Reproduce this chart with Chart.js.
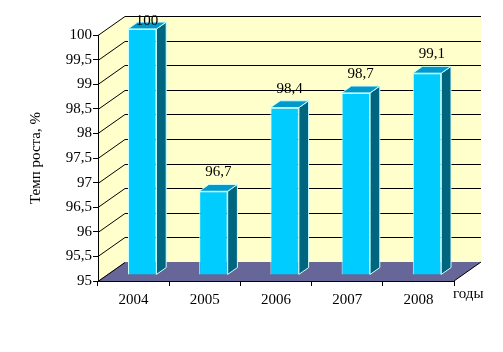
<!DOCTYPE html>
<html>
<head>
<meta charset="utf-8">
<script src="https://cdn.jsdelivr.net/npm/chart.js@4"></script>
<style>
  html, body { margin: 0; padding: 0; background: #fff; }
</style>
</head>
<body>
<canvas id="c" width="503" height="352"></canvas>
<script>
const years = ['2004', '2005', '2006', '2007', '2008'];
const growth = [100, 96.7, 98.4, 98.7, 99.1];
const yMin = 95, yMax = 100, yStep = 0.5;
const yTitle = 'Темп роста, %';
const xUnit = 'годы';

// depth of the 3d box, bars sit between NEAR and FAR of it
const DX = 27, DY = -19;
const NEAR = 0.32, FAR = 0.68;
const FONT = '"Liberation Serif", "Times New Roman", serif';
const comma = v => String(v).replace('.', ',');

const box3d = {
  id: 'box3d',
  beforeDraw(chart) {
    const {ctx, chartArea: a, scales: {y}} = chart;
    ctx.save();
    ctx.fillStyle = '#FFFFCC';
    ctx.beginPath();
    ctx.moveTo(a.left, a.top);
    ctx.lineTo(a.left + DX, a.top + DY);
    ctx.lineTo(a.left + DX, a.bottom + DY);
    ctx.lineTo(a.left, a.bottom);
    ctx.closePath();
    ctx.fill();
    ctx.fillRect(a.left + DX, a.top + DY, a.right - a.left, a.bottom - a.top);

    ctx.fillStyle = '#666699';
    ctx.beginPath();
    ctx.moveTo(a.left, a.bottom);
    ctx.lineTo(a.right, a.bottom);
    ctx.lineTo(a.right + DX, a.bottom + DY);
    ctx.lineTo(a.left + DX, a.bottom + DY);
    ctx.closePath();
    ctx.fill();

    ctx.strokeStyle = '#000';
    ctx.lineWidth = 1;
    y.ticks.forEach(t => {
      const py = Math.round(y.getPixelForValue(t.value)) + 0.5;
      ctx.beginPath();
      ctx.moveTo(a.left, py);
      ctx.lineTo(a.left + DX, py + DY);
      if (t.value > yMin) ctx.lineTo(a.right + DX, py + DY);
      ctx.stroke();
    });
    ctx.beginPath();
    ctx.moveTo(a.right, a.bottom);
    ctx.lineTo(a.right + DX, a.bottom + DY);
    ctx.stroke();

    ctx.fillStyle = '#000';
    ctx.font = '15px ' + FONT;
    ctx.textAlign = 'left';
    ctx.textBaseline = 'alphabetic';
    ctx.fillText(xUnit, a.right - 1, 298);
    ctx.restore();
  },
  beforeDatasetsDraw(chart) {
    chart.ctx.save();
    chart.ctx.translate(DX * NEAR, DY * NEAR);
  },
  afterDatasetsDraw(chart) {
    const {ctx, chartArea: a} = chart;
    ctx.restore();
    const nx = DX * NEAR, ny = DY * NEAR;
    const dx = DX * (FAR - NEAR), dy = DY * (FAR - NEAR);
    ctx.save();
    ctx.lineWidth = 1;
    ctx.strokeStyle = '#CCFFFF';
    chart.getDatasetMeta(0).data.forEach((el, i) => {
      const l = el.x - el.width / 2 + nx, r = el.x + el.width / 2 + nx;
      const top = el.y + ny, bot = el.base + ny;
      ctx.fillStyle = '#006680';
      ctx.beginPath();
      ctx.moveTo(r, top);
      ctx.lineTo(r + dx, top + dy);
      ctx.lineTo(r + dx, bot + dy);
      ctx.lineTo(r, bot);
      ctx.closePath();
      ctx.fill();
      ctx.stroke();
      ctx.fillStyle = '#0099CC';
      ctx.beginPath();
      ctx.moveTo(l, top);
      ctx.lineTo(r, top);
      ctx.lineTo(r + dx, top + dy);
      ctx.lineTo(l + dx, top + dy);
      ctx.closePath();
      ctx.fill();
      ctx.stroke();

      ctx.fillStyle = '#000';
      ctx.font = '15px ' + FONT;
      ctx.textAlign = 'center';
      ctx.textBaseline = 'alphabetic';
      ctx.fillText(comma(growth[i]), el.x + nx + dx / 2, Math.max(top - 15, a.top - 10));
    });
    ctx.restore();
  }
};

new Chart(document.getElementById('c'), {
  type: 'bar',
  data: {
    labels: years,
    datasets: [{
      data: growth,
      base: yMin,
      backgroundColor: '#00CCFF',
      borderColor: '#CCFFFF',
      borderWidth: 1,
      barPercentage: 0.4,
      categoryPercentage: 1,
      clip: false
    }]
  },
  options: {
    responsive: false,
    devicePixelRatio: 1,
    animation: false,
    layout: { padding: { top: 35, right: 49, left: 0, bottom: 0 } },
    plugins: { legend: { display: false }, tooltip: { enabled: false } },
    scales: {
      x: {
        border: { display: true, color: '#000', width: 1 },
        grid: { drawOnChartArea: false, tickLength: 5, color: '#000', offset: true },
        ticks: { color: '#000', padding: 5, font: { family: FONT, size: 15 } },
        afterFit(s) { s.height = 71; }
      },
      y: {
        min: yMin,
        max: yMax,
        border: { display: true, color: '#000', width: 1 },
        grid: { drawOnChartArea: false, tickLength: 5, color: '#000' },
        ticks: { stepSize: yStep, color: '#000', padding: 1, font: { family: FONT, size: 15 }, callback: v => comma(v) },
        title: { display: true, text: yTitle, color: '#000', font: { family: FONT, size: 15 }, padding: { top: 27, bottom: 0 } },
        afterFit(s) { s.width = 98; }
      }
    }
  },
  plugins: [box3d]
});
</script>
</body>
</html>
